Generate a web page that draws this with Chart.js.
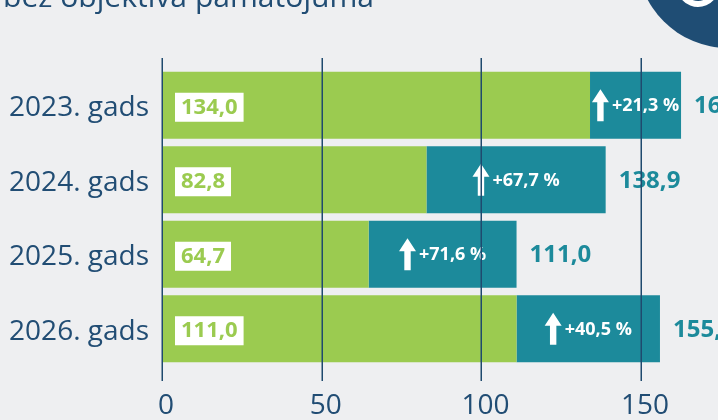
<!DOCTYPE html>
<html>
<head>
<meta charset="utf-8">
<script src="https://cdn.jsdelivr.net/npm/chart.js@4/dist/chart.umd.min.js"></script>
<style>
  html, body { margin: 0; padding: 0; background: #eeeff1; }
  #wrap { width: 718px; height: 420px; position: relative; }
</style>
</head>
<body>
<div id="wrap"><canvas id="c"></canvas></div>
<script>
const categories = ['2023. gads', '2024. gads', '2025. gads', '2026. gads'];
const baseValues = [134.0, 82.8, 64.7, 111.0];
const totalValues = [162.5, 138.9, 111.0, 155.9];
const changePct = [21.3, 67.7, 71.6, 40.5];
const xTicks = [0, 50, 100, 150];
const titleText = 'bez objektīva pamatojuma';

const increaseValues = totalValues.map((t, i) => +(t - baseValues[i]).toFixed(1));

const NAVY = '#214d74';
const GREEN = '#9bcb50';
const TEAL = '#1c8a9b';
const FONT = "'Open Sans', sans-serif";
const fmt = v => v.toFixed(1).replace('.', ',');

const decorPlugin = {
  id: 'decor',
  beforeDraw(chart) {
    const ctx = chart.ctx;
    ctx.save();
    ctx.fillStyle = NAVY;
    ctx.font = `500 30px ${FONT}`;
    ctx.textBaseline = 'alphabetic';
    ctx.textAlign = 'left';
    const w = ctx.measureText(titleText).width;
    ctx.translate(3, 7);
    ctx.scale(371 / w, 1);
    ctx.fillText(titleText, 0, 0);
    ctx.restore();
    ctx.save();
    ctx.fillStyle = '#1f4d74';
    ctx.beginPath();
    ctx.arc(chart.width + 10, -43, 91, 0, Math.PI * 2);
    ctx.fill();
    ctx.strokeStyle = '#ffffff';
    ctx.lineWidth = 6;
    ctx.beginPath();
    ctx.arc(chart.width - 20, -14, 18, 0.12 * Math.PI, 0.92 * Math.PI);
    ctx.stroke();
    ctx.restore();
  },
  afterDatasetsDraw(chart) {
    const ctx = chart.ctx;
    const baseMeta = chart.getDatasetMeta(0);
    const incMeta = chart.getDatasetMeta(1);
    const xs = chart.scales.x;
    ctx.save();
    baseMeta.data.forEach((bar, i) => {
      const cy = bar.y;
      ctx.font = `700 22px ${FONT}`;
      const txt = fmt(baseValues[i]);
      const tw = ctx.measureText(txt).width;
      const bx = xs.getPixelForValue(0) + 13;
      const bh = 29;
      ctx.fillStyle = '#ffffff';
      ctx.fillRect(bx, cy - bh / 2 + 2, tw + 12, bh);
      ctx.fillStyle = GREEN;
      ctx.textBaseline = 'middle';
      ctx.textAlign = 'left';
      ctx.fillText(txt, bx + 6, cy + 2);

      const inc = incMeta.data[i];
      const segL = bar.x;
      const segR = inc.x;
      ctx.font = `700 18px ${FONT}`;
      const pTxt = '+' + fmt(changePct[i]) + ' %';
      const pw = ctx.measureText(pTxt).width;
      const aw = 17, gap = 3;
      const gw = aw + gap + pw;
      const gx = (segL + segR) / 2 - gw / 2;
      ctx.fillStyle = '#ffffff';
      ctx.beginPath();
      const top = cy - 16, headB = cy - 3, bot = cy + 16;
      ctx.moveTo(gx + aw / 2, top);
      ctx.lineTo(gx + aw, headB);
      ctx.lineTo(gx + aw / 2 + 3.2, headB);
      ctx.lineTo(gx + aw / 2 + 3.2, bot);
      ctx.lineTo(gx + aw / 2 - 3.2, bot);
      ctx.lineTo(gx + aw / 2 - 3.2, headB);
      ctx.lineTo(gx, headB);
      ctx.closePath();
      ctx.fill();
      ctx.fillText(pTxt, gx + aw + gap, cy + 1);

      ctx.font = `700 24px ${FONT}`;
      ctx.fillStyle = TEAL;
      ctx.fillText(fmt(totalValues[i]), segR + 13, cy + 1);
    });
    ctx.restore();
  },
  afterDraw(chart) {
    const ctx = chart.ctx;
    const xs = chart.scales.x;
    const area = chart.chartArea;
    ctx.save();
    ctx.strokeStyle = '#1f4a6e';
    ctx.lineWidth = 1.5;
    xTicks.forEach(v => {
      const x = Math.round(xs.getPixelForValue(v)) + 0.25;
      ctx.beginPath();
      ctx.moveTo(x, area.top - 10);
      ctx.lineTo(x, area.bottom + 15);
      ctx.stroke();
    });
    ctx.restore();
  }
};

new Chart(document.getElementById('c'), {
  type: 'bar',
  data: {
    labels: categories,
    datasets: [
      { data: baseValues, backgroundColor: GREEN, borderWidth: 0, barPercentage: 0.9, categoryPercentage: 1 },
      { data: increaseValues, backgroundColor: TEAL, borderWidth: 0, barPercentage: 0.9, categoryPercentage: 1 }
    ]
  },
  options: {
    indexAxis: 'y',
    responsive: true,
    maintainAspectRatio: false,
    animation: false,
    layout: { padding: { top: 68, right: 13, left: 0, bottom: 0 } },
    plugins: { legend: { display: false }, tooltip: { enabled: false }, title: { display: false } },
    scales: {
      x: {
        stacked: true,
        min: 0,
        max: 170,
        grid: { display: false },
        border: { display: false },
        afterBuildTicks: s => { s.ticks = xTicks.map(v => ({ value: v })); },
        afterFit: s => { s.height = 54; },
        ticks: { color: NAVY, font: { family: FONT, size: 28, weight: '500' }, padding: 15, labelOffset: 4, maxRotation: 0, autoSkip: false }
      },
      y: {
        stacked: true,
        grid: { display: false },
        border: { display: false },
        afterFit: s => { s.width = 162; },
        ticks: { color: NAVY, font: { family: FONT, size: 28, weight: '500' }, padding: 5, labelOffset: 3 }
      }
    }
  },
  plugins: [decorPlugin]
});
</script>
</body>
</html>
